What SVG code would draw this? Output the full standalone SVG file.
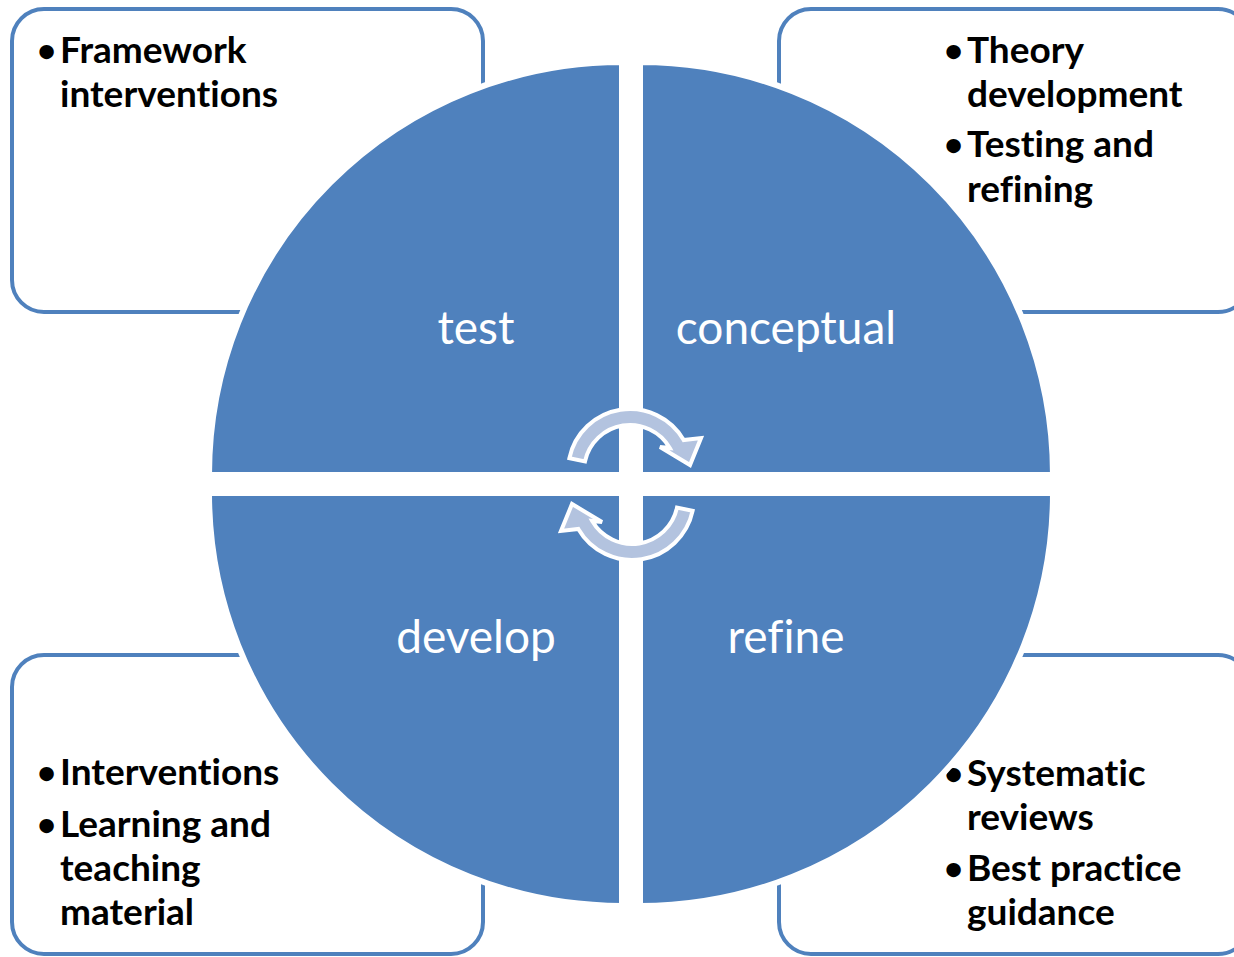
<svg xmlns="http://www.w3.org/2000/svg" width="1234" height="957" viewBox="0 0 1234 957">
  <style>
    .box { fill: #ffffff; stroke: #4f81bd; stroke-width: 4; }
    .quad { fill: #4f81bd; stroke: #ffffff; stroke-width: 6; }
    .qlabel { font-family: Lato, "Liberation Sans", sans-serif; font-size: 46px; fill: #ffffff; text-anchor: middle; font-variant-ligatures: none; }
    .item { font-family: Lato, "Liberation Sans", sans-serif; font-size: 37px; font-weight: bold; fill: #000000; font-variant-ligatures: none; }
    .bullet { font-family: Lato, "Liberation Sans", sans-serif; font-size: 33px; font-weight: bold; fill: #000000; }
    .cyc { fill: #b3c3df; stroke: #ffffff; stroke-width: 4; stroke-linejoin: miter; }
  </style>
  <defs>
    <path id="cycArrow" d="M569.4,458.1 A62,62 0 0 1 683.7,440 L701,438 L690,465 L660,447 L669.8,448 A46,46 0 0 0 585,461.4 Z"/>
  </defs>
  <rect width="1234" height="957" fill="#ffffff"/>

  <g id="box-test">
    <rect class="box" x="12" y="9" width="471" height="303" rx="32"/>
    <text class="bullet" x="37" y="62">•</text>
    <text class="item" x="60" y="63">Framework</text>
    <text class="item" x="60" y="107">interventions</text>
  </g>
  <g id="box-conceptual">
    <rect class="box" x="779" y="9" width="471" height="303" rx="32"/>
    <text class="bullet" x="944" y="62">•</text>
    <text class="item" x="967" y="63">Theory</text>
    <text class="item" x="967" y="107">development</text>
    <text class="bullet" x="944" y="156">•</text>
    <text class="item" x="967" y="157">Testing and</text>
    <text class="item" x="967" y="202">refining</text>
  </g>
  <g id="box-develop">
    <rect class="box" x="12" y="655" width="471" height="299" rx="32"/>
    <text class="bullet" x="37" y="784">•</text>
    <text class="item" x="60" y="785">Interventions</text>
    <text class="bullet" x="37" y="836">•</text>
    <text class="item" x="60" y="837">Learning and</text>
    <text class="item" x="60" y="881">teaching</text>
    <text class="item" x="60" y="925">material</text>
  </g>
  <g id="box-refine">
    <rect class="box" x="779" y="655" width="471" height="299" rx="32"/>
    <text class="bullet" x="944" y="785">•</text>
    <text class="item" x="967" y="786">Systematic</text>
    <text class="item" x="967" y="830">reviews</text>
    <text class="bullet" x="944" y="880">•</text>
    <text class="item" x="967" y="881">Best practice</text>
    <text class="item" x="967" y="925">guidance</text>
  </g>

  <g id="quad-test">
    <path class="quad" d="M622,475 L209,475 A413,413 0 0 1 622,62 Z"/>
    <text class="qlabel" x="476" y="344">test</text>
  </g>
  <g id="quad-conceptual">
    <path class="quad" d="M640,475 L640,62 A413,413 0 0 1 1053,475 Z"/>
    <text class="qlabel" x="786" y="344">conceptual</text>
  </g>
  <g id="quad-develop">
    <path class="quad" d="M622,493 L622,906 A413,413 0 0 1 209,493 Z"/>
    <text class="qlabel" x="476" y="653">develop</text>
  </g>
  <g id="quad-refine">
    <path class="quad" d="M640,493 L1053,493 A413,413 0 0 1 640,906 Z"/>
    <text class="qlabel" x="786" y="653">refine</text>
  </g>

  <g id="connectors">
    <use href="#cycArrow" class="cyc"/>
    <use href="#cycArrow" class="cyc" transform="rotate(180 631 484.5)"/>
  </g>
</svg>
